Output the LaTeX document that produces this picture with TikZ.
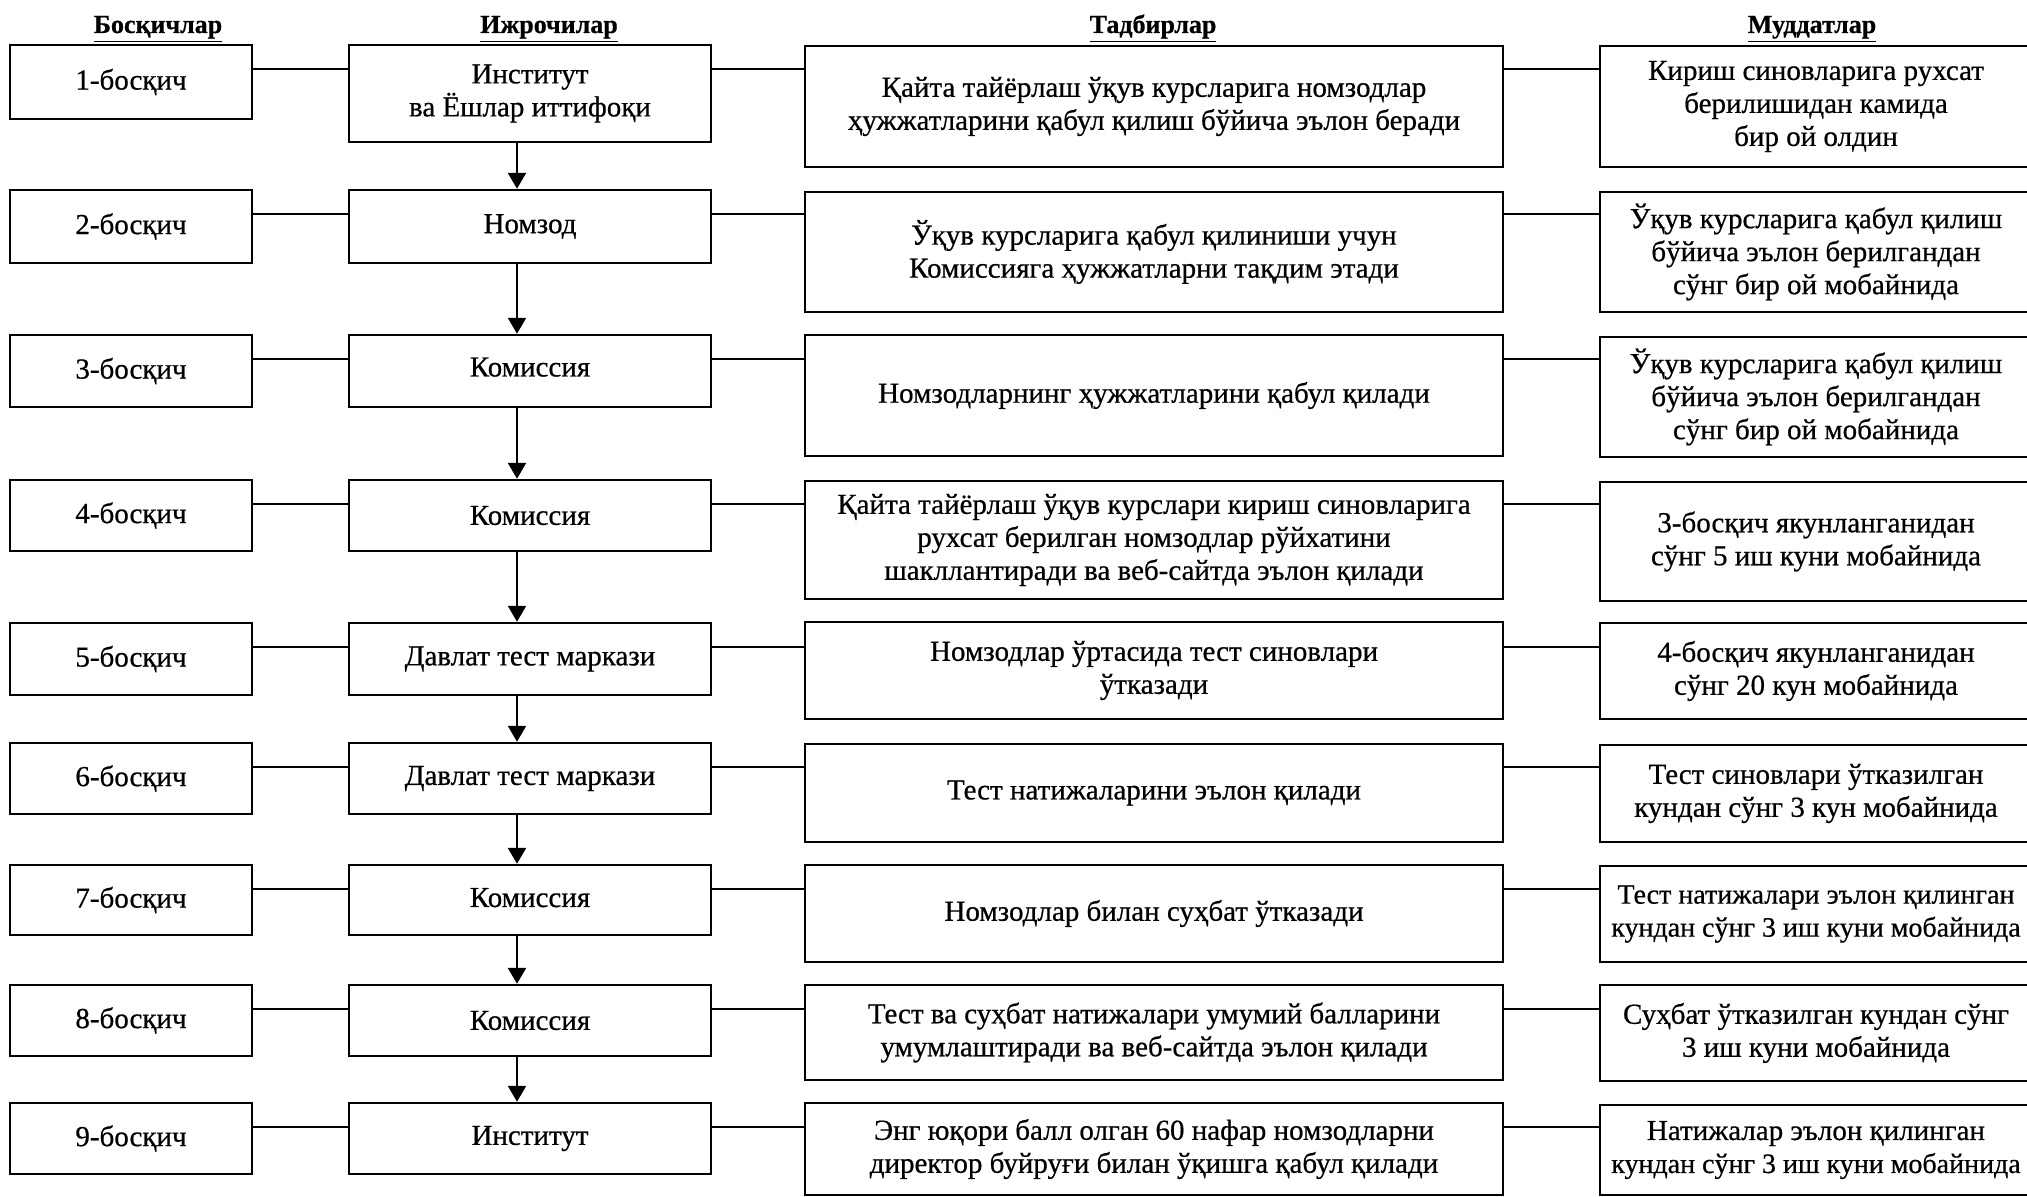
\documentclass[tikz,border=0pt]{standalone}
\usepackage{fontspec}
\setmainfont[FakeBold=0.6]{Liberation Serif}
\usetikzlibrary{arrows.meta,calc}
\newcommand\mybx[6]{\node[box, minimum width={(#4-#2)*0.5pt}, minimum height={(#5-#3)*0.5pt}] (#1) at ({(#2+#4)/2},{(#3+#5)/2}) {#6};}
\newcommand\narrow{\fontsize{14}{16.5}\selectfont}
\begin{document}
\begin{tikzpicture}[x=0.5pt,y=-0.5pt,
  box/.style={draw, line width=1.2pt, inner sep=0pt, align=center, font=\fontsize{14.5}{16.5}\selectfont},
  conn/.style={line width=1.2pt},
  arr/.style={line width=1.2pt, -{Triangle[length=8pt,width=9pt]}},
  hdr/.style={font=\fontsize{13}{15}\selectfont\bfseries, inner sep=0pt, anchor=base}]
\clip (0,0) rectangle (2027,1197);
\fill[white] (0,0) rectangle (2027,1197);
% headers
\node[hdr] (h1) at (158,33) {\underline{Босқичлар}};
\node[hdr] (h2) at (549,33) {\underline{Ижрочилар}};
\node[hdr] (h3) at (1153,33) {\underline{Тадбирлар}};
\node[hdr] (h4) at (1812,33) {\underline{Муддатлар}};
% stages
\mybx{s1}{10}{45}{252}{119}{1-босқич}
\mybx{s2}{10}{190}{252}{263}{2-босқич}
\mybx{s3}{10}{335}{252}{407}{3-босқич}
\mybx{s4}{10}{480}{252}{551}{4-босқич}
\mybx{s5}{10}{623}{252}{695}{5-босқич}
\mybx{s6}{10}{743}{252}{814}{6-босқич}
\mybx{s7}{10}{865}{252}{935}{7-босқич}
\mybx{s8}{10}{985}{252}{1056}{8-босқич}
\mybx{s9}{10}{1103}{252}{1174}{9-босқич}
% executors
\mybx{e1}{349}{45}{711}{142}{Институт\\ва Ёшлар иттифоқи}
\mybx{e2}{349}{190}{711}{263}{\raisebox{-1pt}{Номзод}}
\mybx{e3}{349}{335}{711}{407}{\raisebox{4pt}{Комиссия}}
\mybx{e4}{349}{480}{711}{551}{Комиссия}
\mybx{e5}{349}{623}{711}{695}{\raisebox{2.5pt}{Давлат тест маркази}}
\mybx{e6}{349}{743}{711}{814}{\raisebox{1.5pt}{Давлат тест маркази}}
\mybx{e7}{349}{865}{711}{935}{\raisebox{2.5pt}{Комиссия}}
\mybx{e8}{349}{985}{711}{1056}{Комиссия}
\mybx{e9}{349}{1103}{711}{1174}{Институт}
% activities
\mybx{a1}{805}{46}{1503}{167}{Қайта тайёрлаш ўқув курсларига номзодлар\\ҳужжатларини қабул қилиш бўйича эълон беради}
\mybx{a2}{805}{192}{1503}{312}{Ўқув курсларига қабул қилиниши учун\\Комиссияга ҳужжатларни тақдим этади}
\mybx{a3}{805}{335}{1503}{456}{Номзодларнинг ҳужжатларини қабул қилади}
\mybx{a4}{805}{481}{1503}{599}{Қайта тайёрлаш ўқув курслари кириш синовларига\\рухсат берилган номзодлар рўйхатини\\шакллантиради ва веб-сайтда эълон қилади}
\mybx{a5}{805}{622}{1503}{719}{Номзодлар ўртасида тест синовлари\\ўтказади}
\mybx{a6}{805}{744}{1503}{842}{Тест натижаларини эълон қилади}
\mybx{a7}{805}{865}{1503}{962}{Номзодлар билан суҳбат ўтказади}
\mybx{a8}{805}{985}{1503}{1080}{Тест ва суҳбат натижалари умумий балларини\\умумлаштиради ва веб-сайтда эълон қилади}
\mybx{a9}{805}{1103}{1503}{1195}{Энг юқори балл олган 60 нафар номзодларни\\директор буйруғи билан ўқишга қабул қилади}
% deadlines
\mybx{d1}{1600}{46}{2032}{167}{Кириш синовларига рухсат\\берилишидан камида\\бир ой олдин}
\mybx{d2}{1600}{192}{2032}{312}{Ўқув курсларига қабул қилиш\\бўйича эълон берилгандан\\сўнг бир ой мобайнида}
\mybx{d3}{1600}{337}{2032}{457}{Ўқув курсларига қабул қилиш\\бўйича эълон берилгандан\\сўнг бир ой мобайнида}
\mybx{d4}{1600}{482}{2032}{601}{3-босқич якунланганидан\\сўнг 5 иш куни мобайнида}
\mybx{d5}{1600}{623}{2032}{719}{4-босқич якунланганидан\\сўнг 20 кун мобайнида}
\mybx{d6}{1600}{745}{2032}{842}{Тест синовлари ўтказилган\\кундан сўнг 3 кун мобайнида}
\mybx{d7}{1600}{866}{2032}{962}{\narrow Тест натижалари эълон қилинган\\\narrow кундан сўнг 3 иш куни мобайнида}
\mybx{d8}{1600}{985}{2032}{1081}{Суҳбат ўтказилган кундан сўнг\\3 иш куни мобайнида}
\mybx{d9}{1600}{1105}{2032}{1195}{Натижалар эълон қилинган\\\narrow кундан сўнг 3 иш куни мобайнида}
% horizontal connectors
\foreach \i in {1,...,9}{
  \draw[conn] ($(s\i.north east)+(0,25)$) coordinate (r\i) -- (e\i.west |- r\i);
  \draw[conn] (e\i.east |- r\i) -- (a\i.west |- r\i);
  \draw[conn] (a\i.east |- r\i) -- (d\i.west |- r\i);
}
% vertical arrows
\coordinate (ax) at (517,0);
\foreach \i/\j in {1/2,2/3,3/4,4/5,5/6,6/7,7/8,8/9}{
  \draw[arr] (e\i.south -| ax) -- (e\j.north -| ax);
}
\end{tikzpicture}
\end{document}
